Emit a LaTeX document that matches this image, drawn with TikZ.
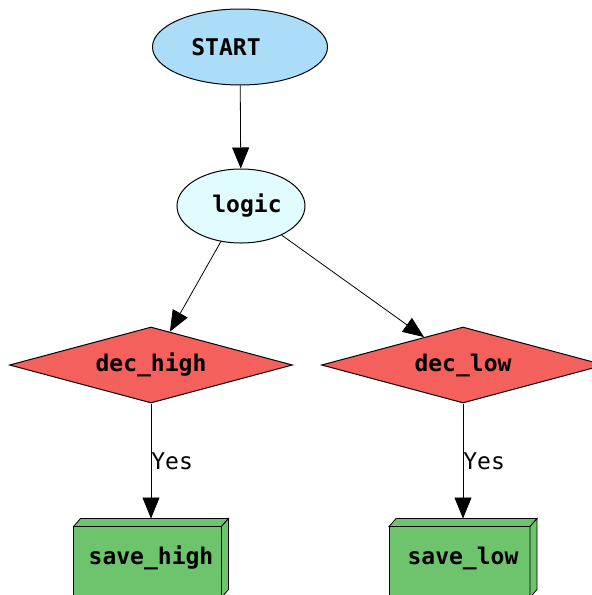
\documentclass[tikz,border=0pt]{standalone}
\usepackage{fontspec}
\setmonofont{DejaVu Sans Mono}
\usepackage{xcolor}
\usetikzlibrary{arrows.meta,shapes.geometric,calc,backgrounds}
\definecolor{startblue}{HTML}{ABDCF8}
\definecolor{logiccyan}{HTML}{E0FCFF}
\definecolor{decred}{HTML}{F4605C}
\definecolor{savegreen}{HTML}{6DC46D}

\begin{document}
\begin{tikzpicture}[x=0.5pt,y=-0.5pt,font=\ttfamily\bfseries\fontsize{11.5}{14}\selectfont,
      >={Triangle[length=10.5pt,width=8.5pt]},line width=0.5pt,
      terminal/.style={draw,ellipse,fill=startblue,inner sep=0pt,minimum width=87.5pt,minimum height=38pt},
      proc/.style={draw,ellipse,fill=logiccyan,inner sep=0pt,minimum width=64pt,minimum height=37pt},
      decision/.style={draw,diamond,aspect=3.7,fill=decred,inner sep=0pt,minimum width=141.5pt,minimum height=38pt},
      savebox/.style={inner sep=0pt,minimum height=39pt},
      boxface/.style={draw,fill=savegreen,line join=miter},
      yeslbl/.style={right,inner sep=0pt,font=\ttfamily\fontsize{11.5}{14}\selectfont}]
    % page
    \useasboundingbox (0,0) rectangle (592,595);
    \clip (0,0) rectangle (592,595);
    % nodes
    \node[terminal] (start) at (240,47) {START\kern14pt};
    \node[proc] (logic) at (241,206) {\kern6pt logic};
    \node[decision] (dhigh) at (151,365) {dec\_high};
    \node[decision] (dlow) at (463,365) {dec\_low};
    \node[savebox,minimum width=77pt] (shigh) at (151,558) {save\_high};
    \node[savebox,minimum width=73.5pt] (slow) at (463,558) {save\_low};
    % 3d faces of the save boxes
    \begin{pgfonlayer}{background}
    \foreach \n in {shigh,slow} {
      \filldraw[boxface] ($(\n.north west)+(0,8)$) rectangle ($(\n.south east)+(-7,0)$);
      \filldraw[boxface] ($(\n.north west)+(0,8)$) -- ($(\n.north west)+(7,0)$) -- (\n.north east)
        -- ($(\n.north east)+(-7,8)$) -- cycle;
      \filldraw[boxface] ($(\n.north east)+(-7,8)$) -- (\n.north east) -- ($(\n.south east)+(0,-8)$)
        -- ($(\n.south east)+(-7,0)$) -- cycle;
    }
    \end{pgfonlayer}
    % edges
    \draw[->] (start) -- (logic);
    \draw[->] (logic) -- (dhigh);
    \draw[->] (logic) -- (dlow);
    \draw[->] (dhigh) -- node[yeslbl] (yhigh) {Yes} (shigh);
    \draw[->] (dlow) -- node[yeslbl] (ylow) {Yes} (slow);
\end{tikzpicture}
\end{document}
